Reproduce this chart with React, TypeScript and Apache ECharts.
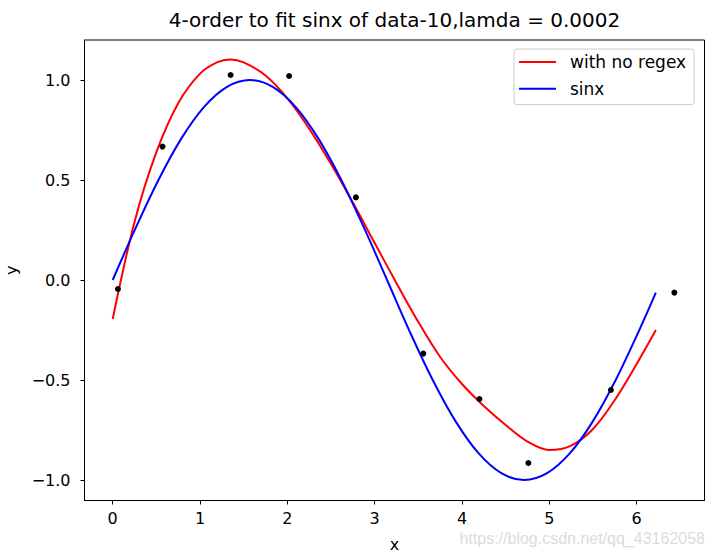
import React, { useEffect, useRef } from "react";
import * as echarts from "echarts";

const titleText = "4-order to fit sinx of data-10,lamda = 0.0002";
const xName = "x";
const yName = "y";
const fitName = "with no regex";
const sinName = "sinx";
const watermark = "https://blog.csdn.net/qq_43162058";

// noisy sample points (black dots)
const pointX = [0.06, 0.57, 1.35, 2.02, 2.785, 3.557, 4.2, 4.76, 5.705, 6.432];
const pointY = [-0.045, 0.667, 1.025, 1.02, 0.413, -0.368, -0.595, -0.915, -0.55, -0.063];

// red: 4-order fit
const fitX = [
  0, 0.25, 0.5, 0.75, 1.0, 1.2, 1.345, 1.5, 1.75, 2.0, 2.25, 2.5, 2.75, 3.0,
  3.25, 3.5, 3.75, 4.0, 4.25, 4.5, 4.75, 5.0, 5.25, 5.5, 5.75, 6.0, 6.22,
];
const fitY = [
  -0.195, 0.29, 0.639, 0.884, 1.032, 1.089, 1.103, 1.088, 1.022, 0.908, 0.757, 0.58, 0.387, 0.185,
  -0.016, -0.21, -0.385, -0.52, -0.63, -0.725, -0.808, -0.85, -0.828, -0.745, -0.6, -0.42, -0.25,
];
// blue: sinx
const sinX = [
  0, 0.262, 0.524, 0.785, 1.047, 1.309, 1.571, 1.833, 2.094, 2.356, 2.618, 2.88, 3.142,
  3.403, 3.665, 3.927, 4.189, 4.451, 4.712, 4.974, 5.236, 5.498, 5.76, 6.021, 6.22,
];
const sinY = [
  0.0, 0.259, 0.5, 0.707, 0.866, 0.966, 1.0, 0.966, 0.866, 0.707, 0.5, 0.259, 0.0,
  -0.259, -0.5, -0.707, -0.866, -0.966, -1.0, -0.966, -0.866, -0.707, -0.5, -0.259, -0.063,
];

const xTicks = [0, 1, 2, 3, 4, 5, 6];
const yTicks = [-1.0, -0.5, 0.0, 0.5, 1.0];

const FONT = "DejaVu Sans";

export default function App() {
  const ref = useRef<HTMLDivElement>(null);
  useEffect(() => {
    if (!ref.current) return;
    const chart = echarts.init(ref.current, undefined, { renderer: "svg" });
    const pair = (xs: number[], ys: number[]) => xs.map((x, i) => [x, ys[i]]);
    chart.setOption({
      animation: false,
      backgroundColor: "#ffffff",
      title: {
        text: titleText,
        left: 394.5,
        top: 10,
        textAlign: "center",
        padding: 0,
        textStyle: { fontFamily: FONT, fontSize: 20, fontWeight: "normal", color: "#000" },
      },
      grid: {
        left: 84.5,
        right: 8.5,
        top: 40,
        bottom: 56.5,
        show: true,
        borderColor: "#000",
        borderWidth: 1,
        backgroundColor: "transparent",
        containLabel: false,
        outerBoundsMode: "none",
      },
      legend: {
        orient: "vertical",
        left: 514,
        top: 49,
        padding: [3, 8, 6, 5],
        itemGap: 6.7,
        itemWidth: 37,
        itemHeight: 2,
        icon: "rect",
        backgroundColor: "rgba(255,255,255,0.8)",
        borderColor: "#cccccc",
        borderWidth: 1,
        borderRadius: 3,
        textStyle: {
          fontFamily: FONT,
          fontSize: 17,
          color: "#000",
          lineHeight: 20,
          padding: [0, 0, 0, 9],
        },
        data: [fitName, sinName],
      },
      xAxis: {
        type: "value",
        min: -0.323,
        max: 6.777,
        name: xName,
        nameLocation: "middle",
        nameGap: 36,
        nameTextStyle: { fontFamily: FONT, fontSize: 16, color: "#000" },
        axisLine: { show: true, onZero: false, lineStyle: { color: "#000", width: 1 } },
        axisTick: { show: true, inside: false, length: 4, customValues: xTicks, lineStyle: { color: "#000" } },
        axisLabel: {
          customValues: xTicks,
          margin: 10,
          fontFamily: FONT,
          fontSize: 16,
          color: "#000",
          formatter: (v: number) => String(v),
        },
        splitLine: { show: false },
      },
      yAxis: {
        type: "value",
        min: -1.1025,
        max: 1.2,
        name: yName,
        nameLocation: "middle",
        nameGap: 65,
        nameRotate: 90,
        nameTextStyle: { fontFamily: FONT, fontSize: 16, color: "#000" },
        axisLine: { show: true, onZero: false, lineStyle: { color: "#000", width: 1 } },
        axisTick: { show: true, inside: false, length: 4, customValues: yTicks, lineStyle: { color: "#000" } },
        axisLabel: {
          customValues: yTicks,
          margin: 14,
          fontFamily: FONT,
          fontSize: 16,
          color: "#000",
          formatter: (v: number) => v.toFixed(1).replace("-", "\u2212"),
        },
        splitLine: { show: false },
      },
      series: [
        {
          name: fitName,
          type: "line",
          data: pair(fitX, fitY),
          smooth: 0.35,
          showSymbol: false,
          symbol: "none",
          lineStyle: { color: "#ff0000", width: 2 },
          itemStyle: { color: "#ff0000" },
          z: 2,
        },
        {
          name: sinName,
          type: "line",
          data: pair(sinX, sinY),
          smooth: 0.35,
          showSymbol: false,
          symbol: "none",
          lineStyle: { color: "#0000ff", width: 2 },
          itemStyle: { color: "#0000ff" },
          z: 3,
        },
        {
          name: "points",
          type: "scatter",
          data: pair(pointX, pointY),
          symbol: "circle",
          symbolSize: 6,
          itemStyle: { color: "#000", opacity: 1 },
          z: 4,
        },
      ],
      graphic: [
        {
          type: "text",
          right: 8,
          top: 530,
          style: {
            text: watermark,
            fontFamily: "Liberation Sans",
            fontSize: 16,
            fill: "rgba(215,215,215,0.9)",
          },
          z: 10,
        },
      ],
    });
    return () => chart.dispose();
  }, []);
  return <div ref={ref} style={{ width: 713, height: 557, position: "absolute", left: 0, top: 0 }} />;
}
